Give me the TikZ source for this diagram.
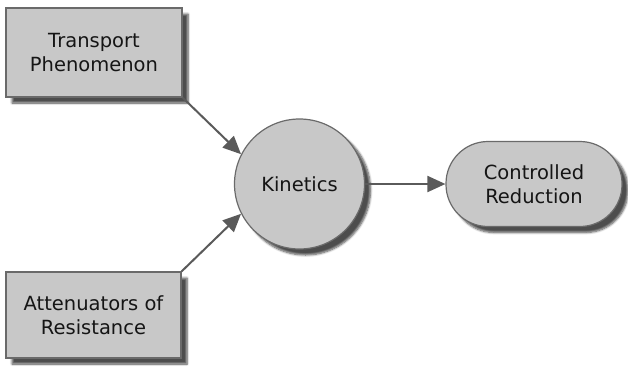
\documentclass[tikz,border=0pt]{standalone}
\usepackage{fontspec}
\setmainfont{DejaVu Sans}
\usetikzlibrary{arrows.meta,shadows.blur}
\definecolor{boxfill}{HTML}{C8C8C8}
\definecolor{boxline}{HTML}{6A6A6A}
\definecolor{arrowcol}{HTML}{5A5A5A}
\definecolor{txt}{HTML}{151515}
\begin{document}
\begin{tikzpicture}[x=1pt,y=-1pt,
  shape base/.style={draw=boxline, line width=1.2pt, fill=boxfill, text=txt,
    align=center, font=\fontsize{19.5}{24}\selectfont, inner sep=0pt,
    blur shadow={shadow xshift=6pt, shadow yshift=-6pt, shadow blur steps=6, shadow opacity=70}},
  boxnode/.style={shape base, rectangle},
  circnode/.style={shape base, circle},
  pillnode/.style={shape base, rectangle, rounded corners=42pt},
  conn/.style={draw=arrowcol, line width=2pt, -{Triangle[length=18pt,width=16pt]}}]
\useasboundingbox (0,0) rectangle (628,367);
\node[boxnode, minimum width=176pt, minimum height=89pt] (tp) at (94,52.5) {Transport\\Phenomenon};
\node[boxnode, minimum width=175pt, minimum height=86pt] (ar) at (93.5,315) {Attenuators of\\Resistance};
\node[circnode, minimum size=130pt] (kin) at (299.5,184) {Kinetics};
\node[pillnode, minimum width=176pt, minimum height=85pt] (cr) at (534,184) {Controlled\\Reduction};
\draw[conn] (tp.south east) -- (kin.153);
\draw[conn] (ar.north east) -- (kin.207);
\draw[conn] (kin.east) -- (cr.west);
\end{tikzpicture}
\end{document}
